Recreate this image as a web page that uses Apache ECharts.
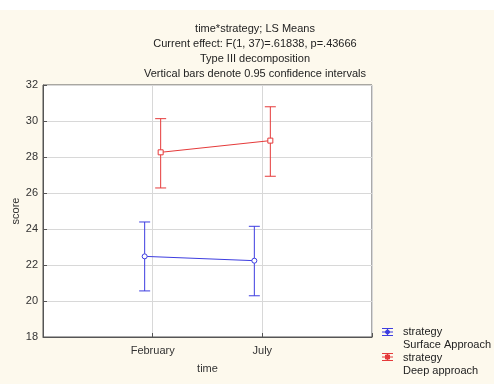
<!DOCTYPE html>
<html>
<head>
<meta charset="utf-8">
<script src="https://cdn.jsdelivr.net/npm/echarts@6/dist/echarts.min.js"></script>
<style>
  html, body { margin: 0; padding: 0; }
  #chart {
    width: 494px;
    height: 384px;
    background: linear-gradient(#ffffff 0, #ffffff 10px, #fdf9ed 10px);
  }
</style>
</head>
<body>
<div id="chart"></div>
<script>
// time points (x positions 1, 2 on a 0..3 axis)
const times = ["February", "July"];
const yTicks = [18, 20, 22, 24, 26, 28, 30, 32];

// strategy: Surface Approach
const surfaceMean = [22.48, 22.24];
const surfaceLow = [20.56, 20.29];
const surfaceHigh = [24.39, 24.15];

// strategy: Deep approach
const deepMean = [28.26, 28.91];
const deepLow = [26.28, 26.93];
const deepHigh = [30.13, 30.79];

const BLUE = "#3d3de0";
const RED = "#e53a3a";
const TEXT = "#333";

function makeData(mean, low, high) {
  return mean.map((m, i) => [i + 1, m, low[i], high[i]]);
}

// draws error bar + marker, plus the segment to the next point
function errorRenderer(color, dodge, marker, mean) {
  return function (params, api) {
    const i = params.dataIndex;
    const x = api.value(0);
    const pm = api.coord([x, api.value(1)]);
    const pl = api.coord([x, api.value(2)]);
    const ph = api.coord([x, api.value(3)]);
    const cx = pm[0] + dodge;
    const cap = 5.5;
    const st = { stroke: color, lineWidth: 1, fill: null };
    const kids = [
      { type: "line", shape: { x1: cx, y1: ph[1], x2: cx, y2: pl[1] }, style: st },
      { type: "line", shape: { x1: cx - cap, y1: ph[1], x2: cx + cap, y2: ph[1] }, style: st },
      { type: "line", shape: { x1: cx - cap, y1: pl[1], x2: cx + cap, y2: pl[1] }, style: st }
    ];
    if (i < mean.length - 1) {
      const pn = api.coord([i + 2, mean[i + 1]]);
      kids.push({ type: "line", shape: { x1: cx, y1: pm[1], x2: pn[0] + dodge, y2: pn[1] }, style: st });
    }
    if (marker === "circle") {
      kids.push({ type: "circle", shape: { cx: cx, cy: pm[1], r: 2.5 }, style: { stroke: color, fill: "#fff", lineWidth: 1 }, z2: 10 });
    } else {
      kids.push({ type: "rect", shape: { x: cx - 2.5, y: pm[1] - 2.5, width: 5, height: 5 }, style: { stroke: color, fill: "#fff", lineWidth: 1 }, z2: 10 });
    }
    return { type: "group", children: kids };
  };
}

function legendIcon(x, y, color, marker) {
  const st = { stroke: color, lineWidth: 1, fill: null };
  const w = 11;
  const kids = [
    { type: "line", shape: { x1: x, y1: y - 3.5, x2: x + w, y2: y - 3.5 }, style: st },
    { type: "line", shape: { x1: x, y1: y, x2: x + w, y2: y }, style: st },
    { type: "line", shape: { x1: x, y1: y + 3.5, x2: x + w, y2: y + 3.5 }, style: st },
    { type: "line", shape: { x1: x + w / 2, y1: y - 3.5, x2: x + w / 2, y2: y + 3.5 }, style: st }
  ];
  if (marker === "circle") {
    kids.push({ type: "circle", shape: { cx: x + w / 2, cy: y, r: 2 }, style: { stroke: color, fill: color } });
  } else {
    kids.push({ type: "rect", shape: { x: x + w / 2 - 2, y: y - 2, width: 4, height: 4 }, style: { stroke: color, fill: color } });
  }
  return { type: "group", children: kids };
}

function legendText(x, y, str) {
  return {
    type: "text", x: x, y: y,
    style: { text: str, fill: "#222", font: "11px 'Liberation Sans', Arial, sans-serif", textVerticalAlign: "middle" }
  };
}

const chart = echarts.init(document.getElementById("chart"));
chart.setOption({
  animation: false,
  textStyle: { fontFamily: "'Liberation Sans', Arial, sans-serif" },
  title: {
    text: "time*strategy; LS Means\nCurrent effect: F(1, 37)=.61838, p=.43666\nType III decomposition\nVertical bars denote 0.95 confidence intervals",
    left: 250,
    top: 16,
    textAlign: "center",
    textStyle: { fontSize: 11, fontWeight: "normal", color: "#222", lineHeight: 15 }
  },
  grid: {
    left: 43, right: 122, top: 85, bottom: 47,
    outerBoundsMode: "none",
    show: true, backgroundColor: "#fff", borderColor: "#555", borderWidth: 1
  },
  xAxis: {
    type: "value", min: 0, max: 3, interval: 1,
    name: "time", nameLocation: "middle", nameGap: 26,
    nameTextStyle: { fontSize: 11, color: TEXT },
    axisLine: { lineStyle: { color: "#555" } },
    axisTick: { inside: true, length: 4, lineStyle: { color: "#555" } },
    axisLabel: { fontSize: 11, color: TEXT, margin: 8, formatter: v => times[v - 1] || "" },
    splitLine: { show: true, lineStyle: { color: "#d8d8d8" } }
  },
  yAxis: {
    type: "value", min: yTicks[0], max: yTicks[yTicks.length - 1], interval: 2,
    name: "score", nameLocation: "middle", nameGap: 22, nameMoveOverlap: false,
    nameTextStyle: { fontSize: 11, color: TEXT },
    axisLine: { show: true, lineStyle: { color: "#555" } },
    axisTick: { show: true, inside: true, length: 4, lineStyle: { color: "#555" } },
    axisLabel: { fontSize: 11, color: TEXT, margin: 5 },
    splitLine: { show: true, lineStyle: { color: "#d8d8d8" } }
  },
  series: [
    {
      type: "custom", name: "Surface Approach",
      data: makeData(surfaceMean, surfaceLow, surfaceHigh),
      encode: { x: 0, y: [1, 2, 3] },
      renderItem: errorRenderer(BLUE, -8, "circle", surfaceMean)
    },
    {
      type: "custom", name: "Deep approach",
      data: makeData(deepMean, deepLow, deepHigh),
      encode: { x: 0, y: [1, 2, 3] },
      renderItem: errorRenderer(RED, 8, "square", deepMean)
    }
  ],
  graphic: [
    legendIcon(382, 332, BLUE, "circle"),
    legendText(403, 332, "strategy"),
    legendText(403, 345, "Surface Approach"),
    legendIcon(382, 357, RED, "square"),
    legendText(403, 358, "strategy"),
    legendText(403, 371, "Deep approach")
  ]
});
</script>
</body>
</html>
